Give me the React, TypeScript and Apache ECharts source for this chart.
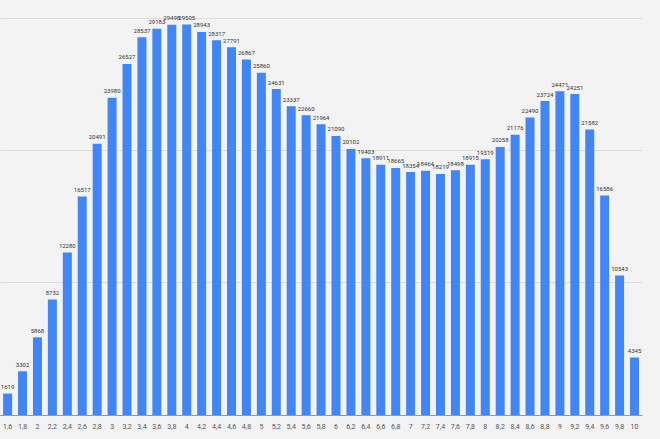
import React, { useEffect, useRef } from "react";
import * as echarts from "echarts";

const categories = ["1,6","1,8","2","2,2","2,4","2,6","2,8","3","3,2","3,4","3,6","3,8","4","4,2","4,4","4,6","4,8","5","5,2","5,4","5,6","5,8","6","6,2","6,4","6,6","6,8","7","7,2","7,4","7,6","7,8","8","8,2","8,4","8,6","8,8","9","9,2","9,4","9,6","9,8","10"];
const values = [1619,3302,5868,8732,12280,16517,20491,23980,26527,28537,29183,29498,29505,28943,28317,27791,26867,25860,24631,23337,22660,21964,21090,20102,19403,18911,18665,18354,18464,18219,18498,18915,19319,20258,21176,22490,23724,24471,24251,21582,16586,10543,4345];

export default function App() {
  const ref = useRef<HTMLDivElement>(null);
  useEffect(() => {
    const chart = echarts.init(ref.current!, null, { renderer: "svg" });
    chart.setOption({
      animation: false,
      backgroundColor: "#f3f3f3",
      grid: { left: -1, right: 18, top: 18, bottom: 24, containLabel: false },
      xAxis: {
        type: "category",
        data: categories,
        axisTick: { show: false },
        axisLine: { lineStyle: { color: "#999" } },
        axisLabel: { fontSize: 7, color: "#555", interval: 0, fontFamily: "Roboto" },
      },
      yAxis: {
        type: "value",
        min: 0,
        max: 30000,
        interval: 10000,
        axisLabel: { show: false },
        splitLine: { lineStyle: { color: "#dddddd" } },
      },
      series: [{
        type: "bar",
        data: values,
        barWidth: 9,
        itemStyle: { color: "#4285f4" },
        label: { show: true, position: "top", fontSize: 6, color: "#333", distance: 4, fontFamily: "Roboto" },
      }],
    });
    return () => chart.dispose();
  }, []);
  return <div ref={ref} style={{ position: "absolute", left: 0, top: 0, width: 660, height: 439 }} />;
}
